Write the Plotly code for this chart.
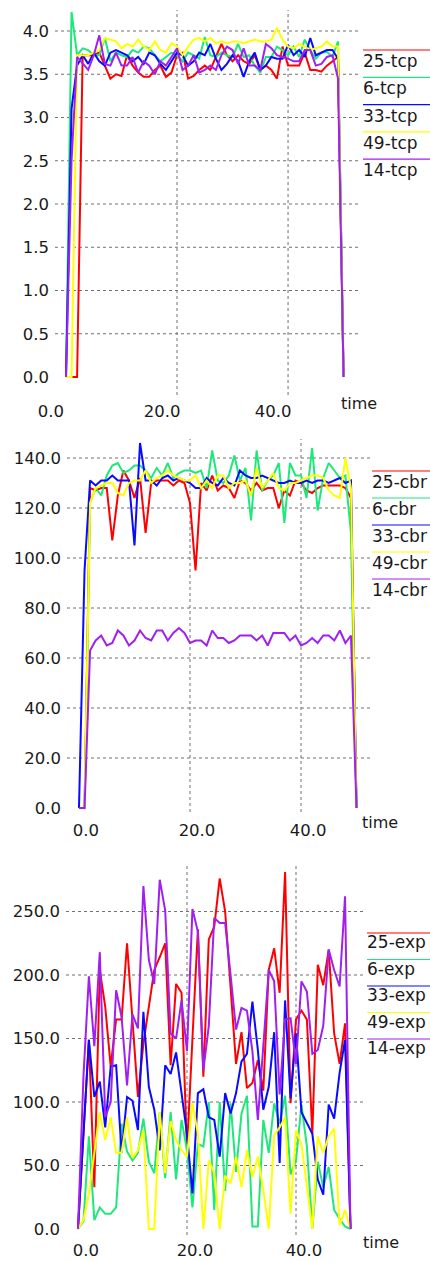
import plotly.graph_objects as go

W, H = 430, 1261

# ---------------- data ----------------
time = list(range(51))

names = ["25", "6", "33", "49", "14"]
colors = ["#ff0000", "#1ee87a", "#0a0aff", "#ffff00", "#a020f0"]

tcp_25 = [0, 0, 0, 3.72, 3.72, 3.72, 3.75, 3.6, 3.45, 3.5, 3.48, 3.72, 3.6, 3.52, 3.47, 3.47, 3.55,
          3.6, 3.47, 3.52, 3.72, 3.75, 3.45, 3.48, 3.55, 3.6, 3.55, 3.7, 3.85, 3.72, 3.65, 3.72, 3.65,
          3.62, 3.72, 3.55, 3.6, 3.55, 3.45, 3.82, 3.6, 3.6, 3.6, 3.75, 3.55, 3.55, 3.53, 3.6, 3.65, 3.7, 0]
tcp_6 = [0, 4.22, 3.72, 3.8, 3.78, 3.72, 3.72, 3.92, 3.65, 3.75, 3.72, 3.7, 3.78, 3.75, 3.82, 3.8, 3.72,
         3.65, 3.7, 3.75, 3.72, 3.65, 3.75, 3.72, 3.68, 3.93, 3.72, 3.7, 3.75, 3.72, 3.7, 3.85, 3.7,
         3.72, 3.6, 3.52, 3.7, 3.7, 3.82, 3.78, 3.72, 3.82, 3.7, 3.9, 3.78, 3.68, 3.75, 3.76, 3.7, 3.88, 0]
tcp_33 = [0, 3.1, 3.6, 3.72, 3.62, 3.75, 3.65, 3.6, 3.75, 3.78, 3.75, 3.72, 3.65, 3.7, 3.62, 3.75, 3.72,
          3.62, 3.55, 3.65, 3.75, 3.72, 3.6, 3.65, 3.75, 3.72, 3.85, 3.68, 3.55, 3.62, 3.72, 3.65, 3.47,
          3.65, 3.75, 3.55, 3.6, 3.7, 3.68, 3.68, 3.84, 3.72, 3.78, 3.7, 3.92, 3.72, 3.75, 3.78, 3.78, 3.68, 0]
tcp_49 = [0, 0, 3.72, 3.72, 3.72, 3.75, 3.78, 3.92, 3.9, 3.88, 3.8, 3.85, 3.82, 3.9, 3.82, 3.78, 3.88,
          3.78, 3.75, 3.86, 3.82, 3.72, 3.82, 3.9, 3.92, 3.88, 3.92, 3.86, 3.88, 3.86, 3.88, 3.88, 3.86,
          3.88, 3.9, 3.88, 3.88, 3.9, 4.04, 3.9, 3.82, 3.8, 3.85, 3.82, 3.78, 3.8, 3.82, 3.88, 3.82, 3.82, 0]
tcp_14 = [0, 2.5, 3.7, 3.62, 3.55, 3.72, 3.95, 3.62, 3.6, 3.75, 3.6, 3.6, 3.7, 3.52, 3.65, 3.6, 3.5,
          3.65, 3.6, 3.7, 3.8, 3.55, 3.6, 3.72, 3.52, 3.55, 3.6, 3.55, 3.72, 3.82, 3.78, 3.62, 3.8,
          3.6, 3.6, 3.55, 3.85, 3.8, 3.72, 3.7, 3.68, 3.65, 3.65, 3.78, 3.78, 3.6, 3.62, 3.7, 3.72, 3.45, 0]

cbr_25 = [0, 0, 128, 127, 128, 128, 107, 125, 135, 131, 124, 132, 110, 130, 131, 131, 131, 129, 131,
          130, 122, 95, 130, 127, 133, 127, 129, 128, 124, 131, 130, 127, 130, 127, 128, 128, 120, 127,
          125, 131, 130, 127, 126, 128, 129, 129, 129, 129, 128, 124, 0]
cbr_6 = [0, 0, 122, 128, 125, 133, 137, 138, 134, 135, 137, 137, 135, 132, 136, 133, 138, 132, 134,
         135, 135, 134, 135, 128, 143, 131, 130, 133, 141, 131, 136, 115, 143, 127, 131, 133, 138, 114,
         138, 133, 133, 124, 144, 119, 132, 138, 135, 132, 133, 110, 0]
cbr_33 = [0, 95, 131, 129, 131, 131, 133, 131, 131, 131, 105, 146, 131, 131, 129, 132, 133, 131, 132,
          131, 130, 128, 128, 132, 130, 129, 132, 130, 129, 135, 133, 132, 132, 133, 132, 131, 130, 130,
          131, 130, 130, 131, 130, 131, 131, 130, 131, 132, 130, 131, 0]
cbr_49 = [0, 0, 122, 128, 129, 130, 130, 126, 125, 130, 131, 131, 135, 130, 132, 133, 135, 133, 132,
          131, 131, 133, 128, 131, 128, 133, 133, 128, 130, 130, 131, 125, 136, 128, 131, 134, 128, 127,
          130, 130, 131, 132, 133, 133, 132, 127, 125, 124, 140, 128, 0]
cbr_14 = [0, 0, 63, 67, 69, 65, 66, 71, 69, 65, 67, 71, 68, 67, 71, 71, 67, 70, 72, 70, 66, 67, 67,
          65, 71, 68, 68, 66, 67, 69, 69, 69, 67, 69, 65, 70, 70, 70, 67, 69, 65, 66, 68, 66, 69, 69,
          67, 71, 66, 69, 0]

exp_25 = [0, 75, 149, 33, 204, 175, 128, 165, 165, 225, 162, 104, 146, 175, 204, 214, 225, 129, 193,
          186, 62, 150, 236, 120, 228, 238, 276, 250, 192, 130, 155, 111, 115, 133, 109, 204, 221, 186,
          281, 99, 165, 172, 165, 75, 208, 192, 220, 154, 130, 162, 0]
exp_6 = [0, 6, 73, 7, 17, 12, 12, 17, 83, 61, 54, 60, 87, 53, 44, 92, 40, 92, 39, 86, 62, 17, 67, 65,
         100, 15, 100, 30, 99, 45, 91, 105, 2, 2, 86, 60, 99, 83, 105, 43, 54, 98, 65, 0, 53, 33, 49,
         15, 8, 2, 0]
exp_33 = [0, 75, 149, 104, 116, 80, 128, 129, 60, 104, 101, 78, 171, 112, 94, 62, 129, 122, 139, 107,
          75, 28, 107, 110, 88, 86, 57, 107, 91, 107, 132, 138, 179, 141, 94, 112, 155, 52, 180, 103,
          154, 92, 83, 75, 39, 27, 98, 87, 123, 149, 0]
exp_49 = [0, 7, 28, 62, 92, 70, 88, 60, 60, 88, 56, 62, 78, 0, 0, 92, 44, 85, 70, 62, 57, 99, 75, 0,
          54, 44, 0, 42, 36, 57, 33, 62, 41, 57, 31, 0, 74, 80, 88, 12, 78, 67, 32, 0, 73, 60, 73, 79,
          3, 15, 0]
exp_14 = [0, 120, 199, 144, 218, 88, 100, 188, 167, 113, 169, 158, 270, 212, 193, 275, 251, 154, 150,
          180, 140, 252, 234, 125, 160, 245, 241, 241, 200, 157, 174, 172, 140, 86, 144, 204, 195, 106,
          165, 166, 130, 195, 187, 138, 141, 160, 220, 204, 191, 262, 0]

tcp_series = [tcp_25, tcp_6, tcp_33, tcp_49, tcp_14]
cbr_series = [cbr_25, cbr_6, cbr_33, cbr_49, cbr_14]
exp_series = [exp_25, exp_6, exp_33, exp_49, exp_14]

x_ticks = [0, 20, 40]
x_tick_text = ["0.0", "20.0", "40.0"]
x_grid = [20, 40]

tcp_yticks = [0, 0.5, 1.0, 1.5, 2.0, 2.5, 3.0, 3.5, 4.0]
cbr_yticks = [0, 20, 40, 60, 80, 100, 120, 140]
exp_yticks = [0, 50, 100, 150, 200, 250]

# ---------------- layout geometry (pixels) ----------------
panels = [
    dict(suffix="tcp", series=tcp_series, yticks=tcp_yticks,
         xpx=(55, 358), ypx=(10, 395), xr=[-1.98, 52.6], yr=[-0.208, 4.243],
         shift=-15, standoff=4, leg_x=363, leg_y0=50, leg_dy=27.3, leg_text_dy=11,
         time_xy=(359, 404)),
    dict(suffix="cbr", series=cbr_series, yticks=cbr_yticks,
         xpx=(67, 370), ypx=(439, 812), xr=[-2.16, 52.43], yr=[-1.6, 147.6],
         shift=7, standoff=6, leg_x=372, leg_y0=471, leg_dy=27.0, leg_text_dy=11,
         time_xy=(380, 822)),
    dict(suffix="exp", series=exp_series, yticks=exp_yticks,
         xpx=(66, 365), ypx=(863, 1235), xr=[-2.2, 52.66], yr=[-4.7, 288.2],
         shift=8, standoff=3, leg_x=367, leg_y0=933, leg_dy=26.5, leg_text_dy=9,
         time_xy=(381, 1242)),
]

FONT = "DejaVu Sans, Liberation Sans, sans-serif"
TXT = "#1a1a1a"
GRID = "#707070"

fig = go.Figure()
layout = dict(width=W, height=H, margin=dict(l=0, r=0, t=0, b=0, pad=0, autoexpand=False),
              paper_bgcolor="white", plot_bgcolor="white", showlegend=False)
shapes = []
annotations = []

for i, p in enumerate(panels, start=1):
    xa = "x" if i == 1 else f"x{i}"
    ya = "y" if i == 1 else f"y{i}"
    xkey = "xaxis" if i == 1 else f"xaxis{i}"
    ykey = "yaxis" if i == 1 else f"yaxis{i}"

    for name, col, vals in zip(names, colors, p["series"]):
        fig.add_trace(go.Scatter(x=time, y=vals, mode="lines", name=f"{name}-{p['suffix']}",
                                 line=dict(color=col, width=2), xaxis=xa, yaxis=ya,
                                 hoverinfo="skip"))

    layout[xkey] = dict(domain=[p["xpx"][0] / W, p["xpx"][1] / W], range=p["xr"], anchor=ya,
                        tickmode="array", tickvals=x_ticks, ticktext=x_tick_text,
                        showgrid=False, zeroline=False, showline=False, ticks="",
                        automargin=False,
                        ticklabelshift=p["shift"], ticklabelstandoff=p["standoff"],
                        tickfont=dict(size=16.5, color=TXT, family=FONT), fixedrange=True)
    layout[ykey] = dict(domain=[1 - p["ypx"][1] / H, 1 - p["ypx"][0] / H], range=p["yr"], anchor=xa,
                        tickmode="array", tickvals=p["yticks"],
                        ticktext=[f"{v:.1f}" for v in p["yticks"]],
                        showgrid=False, zeroline=False, showline=False, ticks="",
                        automargin=False, ticklabelstandoff=5,
                        tickfont=dict(size=16.5, color=TXT, family=FONT), fixedrange=True)

    # gridlines (not at zero)
    for gx in x_grid:
        shapes.append(dict(type="line", xref=xa, yref=f"{ya} domain", x0=gx, x1=gx, y0=0, y1=1,
                           line=dict(color=GRID, width=1, dash="dot"), layer="below"))
    for gy in p["yticks"]:
        if gy == 0:
            continue
        shapes.append(dict(type="line", xref=f"{xa} domain", yref=ya, x0=0, x1=1, y0=gy, y1=gy,
                           line=dict(color=GRID, width=1, dash="dot"), layer="below"))

    # legend: colored line above each label
    for k, (name, col) in enumerate(zip(names, colors)):
        ly = p["leg_y0"] + k * p["leg_dy"]
        shapes.append(dict(type="line", xref="paper", yref="paper",
                           x0=p["leg_x"] / W, x1=1.0, y0=1 - ly / H, y1=1 - ly / H,
                           line=dict(color=col, width=1.2)))
        annotations.append(dict(xref="paper", yref="paper", x=(p["leg_x"] - 2) / W,
                                y=1 - (ly + p["leg_text_dy"]) / H, xanchor="left", yanchor="middle",
                                text=f"{name}-{p['suffix']}", showarrow=False,
                                font=dict(size=17, color=TXT, family=FONT)))

    tx, ty = p["time_xy"]
    annotations.append(dict(xref="paper", yref="paper", x=tx / W, y=1 - ty / H,
                            xanchor="center", yanchor="middle", text="time", showarrow=False,
                            font=dict(size=16, color=TXT, family=FONT)))

layout["shapes"] = shapes
layout["annotations"] = annotations
fig.update_layout(**layout)
fig.write_html("out.html", config={"displayModeBar": False},
               post_script="document.body.style.margin='0';document.body.style.overflow='hidden';")
